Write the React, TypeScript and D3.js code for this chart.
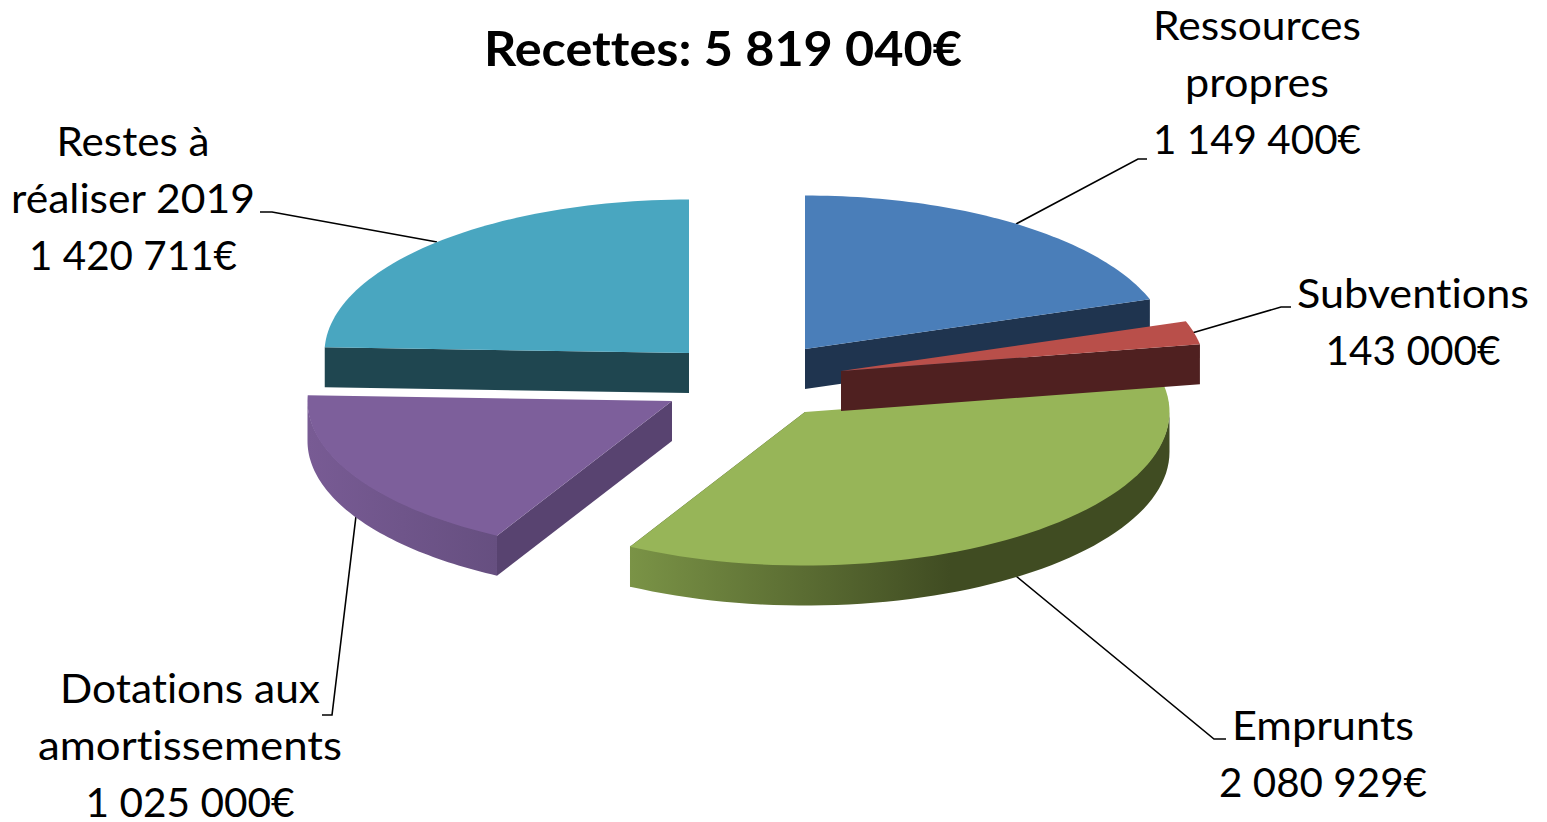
import React from "react";
import * as d3 from "d3";

const labels = ["Ressources propres", "Subventions", "Emprunts", "Dotations aux amortissements", "Restes à réaliser 2019"];
const values = [1149400, 143000, 2080929, 1025000, 1420711];
const topColors = ["#4a7eb9", "#b94f4a", "#97b558", "#7d5f9b", "#49a6c0"];
const sideColors = ["#1f344f", "#4f2020", "#404c22", "#584370", "#1f4650"];
const rimFrom = ["#1f344f", "#4f2020", "#7a9346", "#785b94", "#1f4650"];
const rimTo = ["#1f344f", "#4f2020", "#404c22", "#664f80", "#1f4650"];
const apexX = [805, 841, 805, 672, 689];
const apexY = [349, 371, 412, 401, 353];
const drawOrder = [4, 0, 3, 2, 1];

const width = 1547;
const height = 822;
const rx = 364.5;
const ry = 153.5;
const depth = 40;

const textBlocks = [
  { lines: ["Ressources", "propres", "1 149 400€"], widths: [208, 144, 208], x: 1257, y: 40 },
  { lines: ["Subventions", "143 000€"], widths: [232, 175], x: 1413, y: 308 },
  { lines: ["Emprunts", "2 080 929€"], widths: [182, 208], x: 1323, y: 740 },
  { lines: ["Dotations aux", "amortissements", "1 025 000€"], widths: [260, 304, 209], x: 190, y: 703 },
  { lines: ["Restes à", "réaliser 2019", "1 420 711€"], widths: [153, 244, 208], x: 133, y: 156 },
];
const leaders = [
  [[1016, 224], [1138, 159], [1147, 159]],
  [[1192, 333], [1281, 307], [1291, 307]],
  [[1016, 576], [1214, 739], [1226, 739]],
  [[356, 516], [332, 715], [322, 715]],
  [[437, 242], [272, 212], [260, 212]],
];

const pie = d3.pie<number>().sort(null).value((d) => d);
const arcs = pie(values);

export default function App() {
  const line = d3.line<number[]>().x((d) => d[0]).y((d) => d[1]);
  const slices = drawOrder.map((i) => {
    const a = arcs[i];
    const pt = (t: number, dz = 0) => [
      apexX[i] + rx * Math.sin(t),
      apexY[i] - ry * Math.cos(t) + dz,
    ];
    const n = 60;
    const ts = d3.range(n + 1).map((k) => a.startAngle + ((a.endAngle - a.startAngle) * k) / n);
    const top = line([[apexX[i], apexY[i]], ...ts.map((t) => pt(t))]) + "Z";

    // outer wall, only the part facing the viewer (starts 1px under the top to hide the seam)
    const lo = Math.max(a.startAngle, Math.PI / 2);
    const hi = Math.min(a.endAngle, (3 * Math.PI) / 2);
    let rim = "";
    if (hi > lo) {
      const rs = d3.range(n + 1).map((k) => lo + ((hi - lo) * k) / n);
      rim =
        line([...rs.map((t) => pt(t, -1)), ...rs.slice().reverse().map((t) => pt(t, depth))]) + "Z";
    }

    // cut face: start edge for the left slices, end edge for the others
    const edge = i >= 3 ? a.startAngle : a.endAngle;
    const face =
      line([
        [apexX[i], apexY[i]],
        pt(edge),
        pt(edge, depth),
        [apexX[i], apexY[i] + depth],
      ]) + "Z";
    return { i, top, rim, face };
  });

  return (
    <svg
      width={width}
      height={height}
      style={{ position: "absolute", left: 0, top: 0, fontVariantLigatures: "none" }}
      fontFamily="Lato"
    >
      <defs>
        <linearGradient id="rim2" gradientUnits="userSpaceOnUse" x1={630} x2={950} y1={0} y2={0}>
          <stop offset="0" stopColor={rimFrom[2]} />
          <stop offset="1" stopColor={rimTo[2]} />
        </linearGradient>
        <linearGradient id="rim3" gradientUnits="userSpaceOnUse" x1={308} x2={497} y1={0} y2={0}>
          <stop offset="0" stopColor={rimFrom[3]} />
          <stop offset="1" stopColor={rimTo[3]} />
        </linearGradient>
      </defs>

      {leaders.map((l, k) => (
        <path key={k} d={line(l) || ""} fill="none" stroke="#000" strokeWidth={1.6} />
      ))}

      {slices.map((s) => (
        <g key={labels[s.i]}>
          <path d={s.face} fill={sideColors[s.i]} />
          {s.rim && <path d={s.rim} fill={`url(#rim${s.i})`} />}
          <path d={s.top} fill={topColors[s.i]} />
        </g>
      ))}

      <text
        x={723}
        y={66}
        textAnchor="middle"
        fontSize={47}
        fontWeight={700}
        fill="#000"
        textLength={478}
        lengthAdjust="spacingAndGlyphs"
      >
        Recettes: 5 819 040€
      </text>

      {textBlocks.map((b) =>
        b.lines.map((t, k) => (
          <text
            key={t}
            x={b.x}
            y={b.y + k * 57}
            textAnchor="middle"
            fontSize={41}
            fill="#000"
            textLength={b.widths[k]}
            lengthAdjust="spacingAndGlyphs"
          >
            {t}
          </text>
        ))
      )}
    </svg>
  );
}
